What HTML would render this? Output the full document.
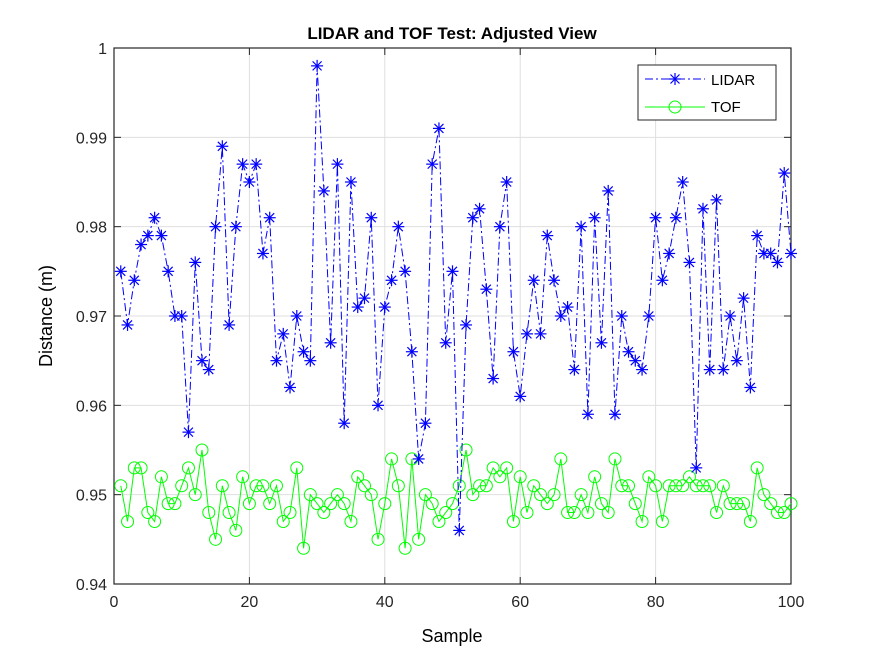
<!DOCTYPE html>
<html><head><meta charset="utf-8"><style>
body{margin:0;background:#fff;}
svg text{font-family:"Liberation Sans",Arial,sans-serif;}
</style></head><body>
<svg id="chart" width="875" height="656" xmlns="http://www.w3.org/2000/svg">
<rect width="875" height="656" fill="#fff"/>
<g id="grid"></g>
<g id="axes"></g>
<g id="series"></g>
<text x="452" y="39" text-anchor="middle" font-size="17" font-weight="bold">LIDAR and TOF Test: Adjusted View</text>
<text x="452" y="642" text-anchor="middle" font-size="18">Sample</text>
<text transform="translate(52,316) rotate(-90)" text-anchor="middle" font-size="18">Distance (m)</text>
<g>
<rect x="638" y="65" width="138" height="55" fill="#fff" stroke="#262626" stroke-width="1"/>
<g>
<line x1="645" y1="79" x2="705" y2="79" stroke="#0000ff" stroke-dasharray="8,3,2,3"/>
<g id="lgstar"></g>
<text x="711" y="85" font-size="15">LIDAR</text></g>
<g>
<line x1="645" y1="107" x2="705" y2="107" stroke="#00ff00"/>
<circle cx="675" cy="107" r="6" fill="none" stroke="#00ff00"/>
<text x="711" y="112" font-size="15">TOF</text></g>
</g>
</svg>
<script>
const samples = Array.from({length:100},(_,i)=>i+1);
const lidar = [0.975,0.969,0.974,0.978,0.979,0.981,0.979,0.975,0.970,0.970,0.957,0.976,0.965,0.964,0.980,0.989,0.969,0.980,0.987,0.985,0.987,0.977,0.981,0.965,0.968,0.962,0.970,0.966,0.965,0.998,0.984,0.967,0.987,0.958,0.985,0.971,0.972,0.981,0.960,0.971,0.974,0.980,0.975,0.966,0.954,0.958,0.987,0.991,0.967,0.975,0.946,0.969,0.981,0.982,0.973,0.963,0.980,0.985,0.966,0.961,0.968,0.974,0.968,0.979,0.974,0.970,0.971,0.964,0.980,0.959,0.981,0.967,0.984,0.959,0.970,0.966,0.965,0.964,0.970,0.981,0.974,0.977,0.981,0.985,0.976,0.953,0.982,0.964,0.983,0.964,0.970,0.965,0.972,0.962,0.979,0.977,0.977,0.976,0.986,0.977];
const tof = [0.951,0.947,0.953,0.953,0.948,0.947,0.952,0.949,0.949,0.951,0.953,0.950,0.955,0.948,0.945,0.951,0.948,0.946,0.952,0.949,0.951,0.951,0.949,0.951,0.947,0.948,0.953,0.944,0.950,0.949,0.948,0.949,0.950,0.949,0.947,0.952,0.951,0.950,0.945,0.949,0.954,0.951,0.944,0.954,0.945,0.950,0.949,0.947,0.948,0.949,0.951,0.955,0.950,0.951,0.951,0.953,0.952,0.953,0.947,0.952,0.948,0.951,0.950,0.949,0.950,0.954,0.948,0.948,0.950,0.948,0.952,0.949,0.948,0.954,0.951,0.951,0.949,0.947,0.952,0.951,0.947,0.951,0.951,0.951,0.952,0.951,0.951,0.951,0.948,0.951,0.949,0.949,0.949,0.947,0.953,0.950,0.949,0.948,0.948,0.949];
const xTicks = [0,20,40,60,80,100];
const yTicks = [0.94,0.95,0.96,0.97,0.98,0.99,1.0];
const yTickLabels = ["0.94","0.95","0.96","0.97","0.98","0.99","1"];

const L=114,R=791,T=48,B=584;
const xs=v=>L+(v-0)/(100-0)*(R-L);
const ys=v=>B-(v-0.94)/(1.0-0.94)*(B-T);
const NS="http://www.w3.org/2000/svg";
function mk(tag,attrs,parent){const e=document.createElementNS(NS,tag);for(const k in attrs)e.setAttribute(k,attrs[k]);parent.appendChild(e);return e;}
const grid=document.getElementById('grid'),axes=document.getElementById('axes'),series=document.getElementById('series');
xTicks.forEach(t=>{const x=xs(t);
 const g=mk('line',{x1:x,x2:x,y1:T,y2:B,stroke:'#dfdfdf'},grid);
 
 
 mk('line',{x1:x,x2:x,y1:B,y2:B-7,stroke:'#262626'},axes);
 mk('line',{x1:x,x2:x,y1:T,y2:T+7,stroke:'#262626'},axes);
 const tx=mk('text',{x:x,y:B+23,'text-anchor':'middle','font-size':'16',fill:'#262626'},axes);
 
 
 tx.textContent=t;});
yTicks.forEach((t,i)=>{const y=ys(t);
 const g=mk('line',{x1:L,x2:R,y1:y,y2:y,stroke:'#dfdfdf'},grid);
 
 
 mk('line',{x1:L,x2:L+7,y1:y,y2:y,stroke:'#262626'},axes);
 mk('line',{x1:R,x2:R-7,y1:y,y2:y,stroke:'#262626'},axes);
 const tx=mk('text',{x:L-7,y:y+6,'text-anchor':'end','font-size':'16',fill:'#262626'},axes);
 
 
 tx.textContent=yTickLabels[i];});
mk('rect',{x:L,y:T,width:R-L,height:B-T,fill:'none',stroke:'#262626','stroke-width':1.2},axes);

function star(cx,cy,parent){const g=mk('g',{stroke:'#0000ff','stroke-width':1.2},parent);const r=6;
 mk('line',{x1:cx-r,x2:cx+r,y1:cy,y2:cy},g);mk('line',{x1:cx,x2:cx,y1:cy-r,y2:cy+r},g);
 const d=r*0.75;mk('line',{x1:cx-d,x2:cx+d,y1:cy-d,y2:cy+d},g);mk('line',{x1:cx-d,x2:cx+d,y1:cy+d,y2:cy-d},g);return g;}

const tl=mk('polyline',{points:samples.map((s,i)=>xs(s)+','+ys(tof[i])).join(' '),fill:'none',stroke:'#00ff00','stroke-width':1},series);


tof.forEach((v,i)=>{const c=mk('circle',{cx:xs(samples[i]),cy:ys(v),r:6,fill:'none',stroke:'#00ff00','stroke-width':1},series);
 
 });
const ll=mk('polyline',{points:samples.map((s,i)=>xs(s)+','+ys(lidar[i])).join(' '),fill:'none',stroke:'#0000ff','stroke-width':1,'stroke-dasharray':'8,3,2,3'},series);


lidar.forEach((v,i)=>{const g=star(xs(samples[i]),ys(v),series);
 
 });
star(675,79,document.getElementById('lgstar'));
</script>
</body></html>
